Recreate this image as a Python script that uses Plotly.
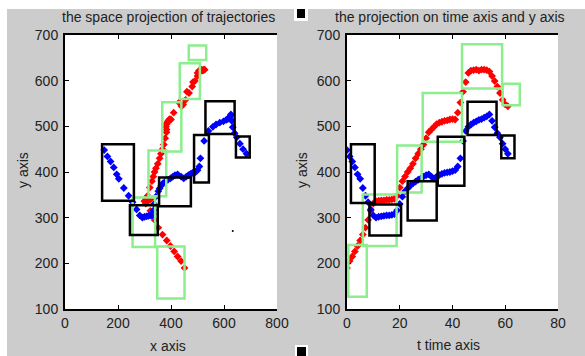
import plotly.graph_objects as go

# ---------------- data ----------------
t_vals = list(range(0, 62))

red_x = [451, 438, 425, 412, 398, 384, 368, 352, 338, 322, 305, 300, 302, 306, 310, 314, 318, 322, 316, 312,
         320, 328, 333, 338, 343, 350, 357, 362, 368, 373, 378, 383, 383, 381, 384, 386, 388, 390, 392, 394,
         396, 400, 410, 430, 460, 483, 500, 506, 512, 516, 520, 524, 527, 522, 510, 500, 490, 480, 468, 455,
         446, 440]
red_y = [190, 205, 215, 226, 238, 250, 263, 278, 295, 315, 331, 336, 337, 338, 338, 339, 339, 340, 341, 348,
         366, 380, 390, 400, 408, 418, 430, 440, 450, 460, 474, 487, 493, 499, 505, 508, 510, 512, 513, 515,
         516, 515, 530, 552, 576, 597, 617, 622, 623, 624, 622, 624, 624, 623, 620, 610, 599, 587, 573, 558,
         548, 544]

blue_x = [148, 160, 172, 184, 195, 203, 222, 240, 255, 270, 282, 292, 300, 308, 315, 322, 328, 330, 332, 334,
          336, 343, 352, 357, 363, 369, 378, 388, 398, 407, 415, 425, 438, 448, 458, 466, 474, 481, 487, 492,
          496, 500, 507, 511, 525, 541, 558, 570, 584, 598, 608, 614, 619, 623, 626, 629, 633, 640, 648, 660,
          672, 685]
blue_y = [448, 434, 423, 410, 395, 385, 365, 348, 334, 318, 305, 300, 302, 303, 304, 305, 305, 306, 308, 316,
          330, 346, 358, 364, 370, 375, 379, 383, 386, 390, 393, 395, 390, 386, 390, 393, 396, 398, 399, 400,
          402, 404, 412, 430, 468, 490, 499, 504, 508, 511, 514, 516, 519, 522, 526, 512, 498, 485, 476, 462,
          450, 440]

stray_x = [633]
stray_y = [271]

# boxes: (x0, x1, y0, y1)
left_black = [(140, 260, 337, 461), (245, 350, 262, 327), (355, 475, 325, 388),
              (487, 543, 377, 481), (530, 640, 483, 555), (645, 697, 432, 478)]
left_green = [(467, 533, 645, 677), (433, 509, 560, 638), (367, 439, 445, 553),
              (315, 382, 347, 447), (255, 340, 236, 344), (348, 451, 123, 237)]
right_black = [(1.5, 10.5, 332, 461), (8.5, 20.5, 261, 329), (23, 34, 294, 380),
               (34.4, 44.5, 370, 477), (45.7, 56.7, 481, 554), (58.5, 63.5, 430, 480)]
right_green = [(43.6, 58.8, 583, 680), (59, 65.5, 546, 593), (28.7, 43.6, 466, 573),
               (19, 28.3, 355, 458), (6, 18.8, 238, 351), (0.5, 7.5, 127, 240)]

x_ticks = [0, 200, 400, 600, 800]
t_ticks = [0, 20, 40, 60, 80]
y_ticks = [100, 200, 300, 400, 500, 600, 700]

title_left = "the space projection of trajectories"
title_right = "the projection on time axis and y axis"

# ---------------- layout helpers ----------------
W, H = 585, 356
ML, MR, MT, MB = 65, 27, 35, 47
PW, PH = W - ML - MR, H - MT - MB


def px(v):
    return (v - ML) / PW


def py(v):
    return (H - MB - v) / PH


FONT = "Liberation Sans, Arial, sans-serif"
RED = "#ff0000"
BLUE = "#0000ff"
GREEN = "#8cee8c"
GRAY = "#cccccc"

fig = go.Figure()

mk = dict(symbol="diamond", size=6, line=dict(width=0))
fig.add_trace(go.Scatter(x=red_x, y=red_y, mode="markers", marker=dict(color=RED, **mk),
                         xaxis="x", yaxis="y", showlegend=False))
fig.add_trace(go.Scatter(x=blue_x, y=blue_y, mode="markers", marker=dict(color=BLUE, **mk),
                         xaxis="x", yaxis="y", showlegend=False))
fig.add_trace(go.Scatter(x=stray_x, y=stray_y, mode="markers", marker=dict(color="black", size=2),
                         xaxis="x", yaxis="y", showlegend=False))
fig.add_trace(go.Scatter(x=t_vals, y=red_y, mode="markers", marker=dict(color=RED, **mk),
                         xaxis="x2", yaxis="y2", showlegend=False))
fig.add_trace(go.Scatter(x=t_vals, y=blue_y, mode="markers", marker=dict(color=BLUE, **mk),
                         xaxis="x2", yaxis="y2", showlegend=False))

shapes = []
for boxes, xr, yr in [(left_green, "x", "y"), (right_green, "x2", "y2")]:
    for (x0, x1, y0, y1) in boxes:
        shapes.append(dict(type="rect", xref=xr, yref=yr, x0=x0, x1=x1, y0=y0, y1=y1,
                           line=dict(color=GREEN, width=2.5), layer="above"))
for boxes, xr, yr in [(left_black, "x", "y"), (right_black, "x2", "y2")]:
    for (x0, x1, y0, y1) in boxes:
        shapes.append(dict(type="rect", xref=xr, yref=yr, x0=x0, x1=x1, y0=y0, y1=y1,
                           line=dict(color="black", width=2.5), layer="above"))

# white strips at top and left of the figure
shapes.append(dict(type="rect", xref="paper", yref="paper", x0=px(-5), x1=px(7), y0=py(H + 5), y1=py(-5),
                   fillcolor="white", line=dict(width=0), layer="below"))
shapes.append(dict(type="rect", xref="paper", yref="paper", x0=px(-5), x1=px(W + 5), y0=py(9), y1=py(-5),
                   fillcolor="white", line=dict(width=0), layer="below"))
# small black squares
for (a, b, c, d) in [(294, 308, 5, 21), (295, 308, 345, 358)]:
    shapes.append(dict(type="rect", xref="paper", yref="paper", x0=px(a), x1=px(b), y0=py(d), y1=py(c),
                       fillcolor="white", line=dict(width=0)))
for (a, b, c, d) in [(297, 305, 9, 18), (297, 306, 347, 358)]:
    shapes.append(dict(type="rect", xref="paper", yref="paper", x0=px(a), x1=px(b), y0=py(d), y1=py(c),
                       fillcolor="black", line=dict(width=0)))

tickfont = dict(family=FONT, size=14, color="#222222")
xcommon = dict(showgrid=False, zeroline=False, showline=True, linecolor="black", linewidth=1.5,
               mirror="ticks", ticks="inside", ticklen=4, tickcolor="black", tickfont=tickfont)
ycommon = dict(showgrid=False, zeroline=False, showline=True, linecolor="black", linewidth=2,
               ticks="inside", ticklen=4, tickcolor="black", tickfont=tickfont,
               range=[100, 700], tickvals=y_ticks, ticklabelstandoff=2)

dom_left = [0, px(277)]
dom_right = [px(347), 1]

ann = []
for txt, cx, cy, ang in [(title_left, 168, 17, 0), (title_right, 450, 17, 0),
                         ("x axis", 168, 346, 0), ("t time axis", 448, 345, 0),
                         ("y axis", 23, 170, -90), ("y axis", 302, 170, -90)]:
    ann.append(dict(text=txt, x=px(cx), y=py(cy), xref="paper", yref="paper", showarrow=False,
                    xanchor="center", yanchor="middle", textangle=ang,
                    font=dict(family=FONT, size=14, color="#222222")))

fig.update_layout(
    width=W, height=H, margin=dict(l=ML, r=MR, t=MT, b=MB),
    paper_bgcolor=GRAY, plot_bgcolor="white",
    xaxis=dict(domain=dom_left, range=[0, 800], tickvals=x_ticks, anchor="y", **xcommon),
    yaxis=dict(domain=[0, 1], anchor="x", **ycommon),
    xaxis2=dict(domain=dom_right, range=[0, 80], tickvals=t_ticks, anchor="y2", **xcommon),
    yaxis2=dict(domain=[0, 1], anchor="x2", **ycommon),
    yaxis3=dict(overlaying="y", side="right", anchor="x", range=[100, 700], tickvals=y_ticks,
                showticklabels=False, showline=False, showgrid=False, zeroline=False,
                ticks="inside", ticklen=4, tickcolor="black"),
    yaxis4=dict(overlaying="y2", side="right", anchor="x2", range=[100, 700], tickvals=y_ticks,
                showticklabels=False, showline=False, showgrid=False, zeroline=False,
                ticks="inside", ticklen=4, tickcolor="black"),
    shapes=shapes, annotations=ann,
)

fig.write_html("out.html")
